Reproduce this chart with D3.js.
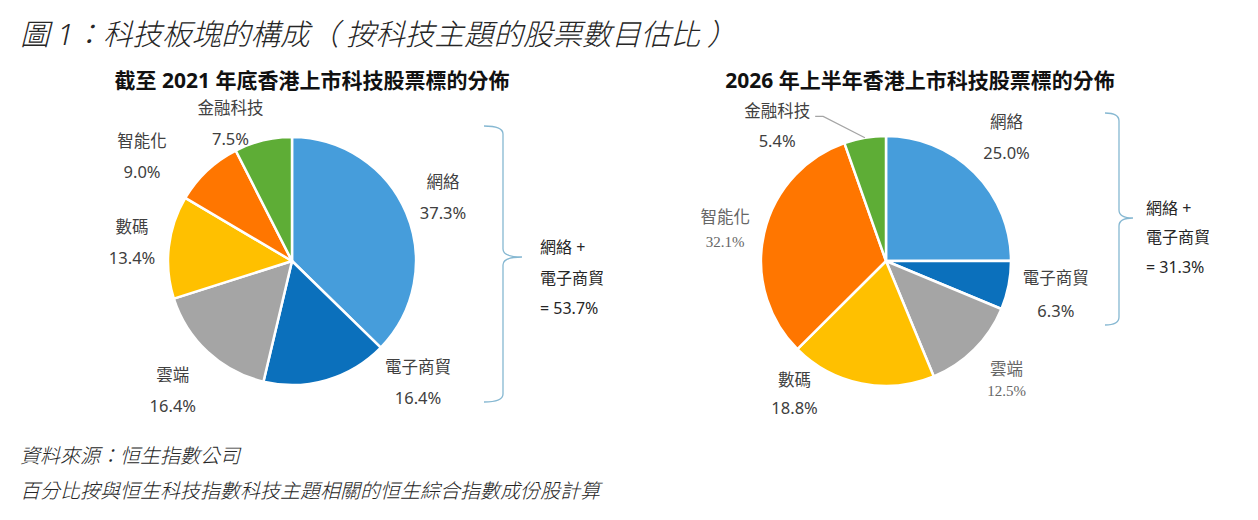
<!DOCTYPE html>
<html>
<head>
<meta charset="utf-8">
<script src="https://cdn.jsdelivr.net/npm/d3@7"></script>
<style>
  html, body { margin: 0; padding: 0; background: #fff; }
  svg { display: block; font-family: "Noto Sans", "Noto Sans CJK TC", sans-serif; }
</style>
</head>
<body>
<div id="chart"></div>
<script>
// data
var categories = ["網絡", "電子商貿", "雲端", "數碼", "智能化", "金融科技"];
var share2021 = [37.3, 16.4, 16.4, 13.4, 9.0, 7.5];
var share2026 = [25.0, 6.3, 12.5, 18.8, 32.1, 5.4];
var bracketCats = ["網絡", "電子商貿"];

// title split so the brackets can get some air around them
var mainTitle = ["圖 1：科技板塊的構成", "（", "按科技主題的股票數目估比", "）"];
var title2021 = "截至 2021 年底香港上市科技股票標的分佈";
var title2026 = "2026 年上半年香港上市科技股票標的分佈";
var notes = ["資料來源：恒生指數公司", "百分比按與恒生科技指數科技主題相關的恒生綜合指數成份股計算"];

// styling
var sliceColors = ["#469ddb", "#0b70bc", "#a5a5a5", "#ffc000", "#ff7600", "#5ead36"];
var textColor = "#404040";

var width = 1258, height = 520;

var svg = d3.select("#chart")
    .append("svg")
    .attr("width", width)
    .attr("height", height);

svg.append("rect").attr("width", width).attr("height", height).attr("fill", "#fff");

// main title
var titleDx = [0, 0, 7, 7];
svg.append("text")
    .attr("x", 20)
    .attr("y", 33)
    .attr("dominant-baseline", "central")
    .style("font-size", "29.5px")
    .style("font-style", "italic")
    .style("font-weight", 300)
    .style("fill", "#262626")
    .selectAll("tspan")
    .data(mainTitle)
    .enter()
    .append("tspan")
    .attr("dx", function (d, i) { return titleDx[i]; })
    .text(function (d) { return d; });

// footer notes
svg.selectAll("text.note")
    .data(notes)
    .enter()
    .append("text")
    .attr("class", "note")
    .attr("x", 20)
    .attr("y", function (d, i) { return 455 + i * 35; })
    .attr("dominant-baseline", "central")
    .style("font-size", "20px")
    .style("font-style", "italic")
    .style("font-weight", 300)
    .style("fill", "#262626")
    .text(function (d) { return d; });

var fmt = d3.format(".1f");

var charts = [
    {
        values: share2021, title: title2021, titleX: 312,
        cx: 292, cy: 261, r: 124,
        // label nudges from the centroid at radius 165
        nudge: [[-1, 0], [80, -37], [-7, 8], [4, 0], [-37, 15], [-23, 22]],
        gap: [31, 31, 31, 31, 31, 31],
        serif: [false, false, false, false, false, false],
        brace: { x0: 484, x1: 503, xt: 522, y0: 126, ym: 257, y1: 402 },
        noteX: 540, noteY: [247, 278, 308],
        leader: null
    },
    {
        values: share2026, title: title2026, titleX: 920,
        cx: 886, cy: 261, r: 125,
        nudge: [[4, -7], [8, 1], [4, 2], [-59, -29], [0, 5], [-81, 27]],
        gap: [31, 33, 23, 28, 25, 30],
        serif: [false, false, true, false, true, false],
        brace: { x0: 1105, x1: 1119, xt: 1133, y0: 113, ym: 218, y1: 325 },
        noteX: 1146, noteY: [208, 237, 267],
        leader: 5
    }
];

charts.forEach(function (c) {
    var data = categories.map(function (name, i) {
        return { name: name, value: c.values[i], idx: i };
    });

    var pie = d3.pie().sort(null).value(function (d) { return d.value; });
    var arcs = pie(data);
    var arc = d3.arc().innerRadius(0).outerRadius(c.r);
    var labelArc = d3.arc().innerRadius(165).outerRadius(165);
    var edgeArc = d3.arc().innerRadius(c.r).outerRadius(c.r);

    var g = svg.append("g").attr("transform", "translate(" + c.cx + "," + c.cy + ")");

    // subtitle
    svg.append("text")
        .attr("x", c.titleX)
        .attr("y", 80)
        .attr("text-anchor", "middle")
        .attr("dominant-baseline", "central")
        .style("font-size", "21px")
        .style("font-weight", "bold")
        .style("fill", "#111")
        .text(c.title);

    // slices
    g.selectAll("path.slice")
        .data(arcs)
        .enter()
        .append("path")
        .attr("class", "slice")
        .attr("d", arc)
        .attr("fill", function (d) { return sliceColors[d.data.idx]; })
        .attr("stroke", "#fff")
        .attr("stroke-width", 2.5)
        .attr("stroke-linejoin", "round");

    // labels
    arcs.forEach(function (d) {
        var i = d.data.idx;
        var p = labelArc.centroid(d);
        var lx = p[0] + c.nudge[i][0], ly = p[1] + c.nudge[i][1];
        var lg = g.append("g").attr("transform", "translate(" + lx + "," + ly + ")");
        var serif = c.serif[i];
        lg.append("text")
            .attr("y", -c.gap[i] / 2)
            .attr("text-anchor", "middle")
            .attr("dominant-baseline", "central")
            .style("font-size", "16.5px")
            .style("fill", serif ? "#666" : textColor)
            .text(d.data.name);
        lg.append("text")
            .attr("y", c.gap[i] / 2)
            .attr("text-anchor", "middle")
            .attr("dominant-baseline", "central")
            .style("font-size", serif ? "15px" : "16.5px")
            .style("font-family", serif ? "'Liberation Serif', 'DejaVu Serif', serif" : null)
            .style("fill", serif ? "#666" : textColor)
            .text(fmt(d.data.value) + "%");

        if (c.leader === i) {
            var e = edgeArc.centroid(d);
            var sx = lx + 38, sy = ly - c.gap[i] / 2 + 6;
            g.append("polyline")
                .attr("points", [[sx, sy], [sx + 8, sy], e].map(function (q) { return q.join(","); }).join(" "))
                .attr("fill", "none")
                .attr("stroke", "#a5a5a5")
                .attr("stroke-width", 1.2);
        }
    });

    // curly brace
    var b = c.brace, k = 8;
    var path = d3.path();
    path.moveTo(b.x0, b.y0);
    path.quadraticCurveTo(b.x1, b.y0, b.x1, b.y0 + k);
    path.lineTo(b.x1, b.ym - k);
    path.quadraticCurveTo(b.x1, b.ym, b.xt, b.ym);
    path.quadraticCurveTo(b.x1, b.ym, b.x1, b.ym + k);
    path.lineTo(b.x1, b.y1 - k);
    path.quadraticCurveTo(b.x1, b.y1, b.x0, b.y1);
    svg.append("path")
        .attr("d", path.toString())
        .attr("fill", "none")
        .attr("stroke", "#86b8d2")
        .attr("stroke-width", 1.3);

    // sum of bracketed categories
    var total = d3.sum(bracketCats, function (n) { return c.values[categories.indexOf(n)]; });
    var noteLines = [bracketCats[0] + " +", bracketCats[1], "= " + fmt(total) + "%"];
    svg.selectAll(null)
        .data(noteLines)
        .enter()
        .append("text")
        .attr("x", c.noteX)
        .attr("y", function (d, i) { return c.noteY[i]; })
        .attr("dominant-baseline", "central")
        .style("font-size", "16px")
        .style("fill", "#262626")
        .text(function (d) { return d; });
});
</script>
</body>
</html>
